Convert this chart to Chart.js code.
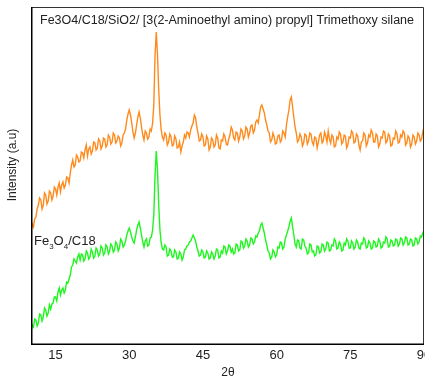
<!DOCTYPE html>
<html>
<head>
<meta charset="utf-8">
<script src="https://cdn.jsdelivr.net/npm/chart.js@4"></script>
<style>
  html, body { margin: 0; padding: 0; background: #fff; }
  #wrap { width: 425px; height: 376px; position: relative; }
</style>
</head>
<body>
<div id="wrap"><canvas id="xrd"></canvas></div>
<script>
/* ── data ──────────────────────────────────────── */
const twoTheta = [
  10, 10.25, 10.5, 10.75, 11, 11.25, 11.5, 11.75, 12, 12.25, 12.5, 12.75, 13, 13.25, 13.5, 13.75, 14, 14.25, 14.5, 14.75,
  15, 15.25, 15.5, 15.75, 16, 16.25, 16.5, 16.75, 17, 17.25, 17.5, 17.75, 18, 18.25, 18.5, 18.75, 19, 19.25, 19.5, 19.75,
  20, 20.25, 20.5, 20.75, 21, 21.25, 21.5, 21.75, 22, 22.25, 22.5, 22.75, 23, 23.25, 23.5, 23.75, 24, 24.25, 24.5, 24.75,
  25, 25.25, 25.5, 25.75, 26, 26.25, 26.5, 26.75, 27, 27.25, 27.5, 27.75, 28, 28.25, 28.5, 28.75, 29, 29.25, 29.5, 29.75,
  30, 30.25, 30.5, 30.75, 31, 31.25, 31.5, 31.75, 32, 32.25, 32.5, 32.75, 33, 33.25, 33.5, 33.75, 34, 34.25, 34.5, 34.75,
  35, 35.25, 35.5, 35.75, 36, 36.25, 36.5, 36.75, 37, 37.25, 37.5, 37.75, 38, 38.25, 38.5, 38.75, 39, 39.25, 39.5, 39.75,
  40, 40.25, 40.5, 40.75, 41, 41.25, 41.5, 41.75, 42, 42.25, 42.5, 42.75, 43, 43.25, 43.5, 43.75, 44, 44.25, 44.5, 44.75,
  45, 45.25, 45.5, 45.75, 46, 46.25, 46.5, 46.75, 47, 47.25, 47.5, 47.75, 48, 48.25, 48.5, 48.75, 49, 49.25, 49.5, 49.75,
  50, 50.25, 50.5, 50.75, 51, 51.25, 51.5, 51.75, 52, 52.25, 52.5, 52.75, 53, 53.25, 53.5, 53.75, 54, 54.25, 54.5, 54.75,
  55, 55.25, 55.5, 55.75, 56, 56.25, 56.5, 56.75, 57, 57.25, 57.5, 57.75, 58, 58.25, 58.5, 58.75, 59, 59.25, 59.5, 59.75,
  60, 60.25, 60.5, 60.75, 61, 61.25, 61.5, 61.75, 62, 62.25, 62.5, 62.75, 63, 63.25, 63.5, 63.75, 64, 64.25, 64.5, 64.75,
  65, 65.25, 65.5, 65.75, 66, 66.25, 66.5, 66.75, 67, 67.25, 67.5, 67.75, 68, 68.25, 68.5, 68.75, 69, 69.25, 69.5, 69.75,
  70, 70.25, 70.5, 70.75, 71, 71.25, 71.5, 71.75, 72, 72.25, 72.5, 72.75, 73, 73.25, 73.5, 73.75, 74, 74.25, 74.5, 74.75,
  75, 75.25, 75.5, 75.75, 76, 76.25, 76.5, 76.75, 77, 77.25, 77.5, 77.75, 78, 78.25, 78.5, 78.75, 79, 79.25, 79.5, 79.75,
  80, 80.25, 80.5, 80.75, 81, 81.25, 81.5, 81.75, 82, 82.25, 82.5, 82.75, 83, 83.25, 83.5, 83.75, 84, 84.25, 84.5, 84.75,
  85, 85.25, 85.5, 85.75, 86, 86.25, 86.5, 86.75, 87, 87.25, 87.5, 87.75, 88, 88.25, 88.5, 88.75, 89, 89.25, 89.5, 89.75,
  90
];

// Fe3O4/C18/SiO2/ [3(2-Aminoethyl amino) propyl] Trimethoxy silane
const silaneIntensity = [
  115, 121, 118, 126, 128, 136, 140, 147, 145, 136, 140, 152, 150, 141, 144, 154, 152, 145, 149, 158,
  156, 150, 158, 162, 153, 160, 163, 157, 160, 168, 167, 162, 172, 180, 185, 178, 180, 190, 188, 183,
  184, 193, 192, 187, 195, 200, 189, 196, 198, 191, 194, 203, 202, 195, 197, 206, 204, 196, 199, 207,
  206, 198, 200, 210, 208, 201, 203, 212, 210, 202, 204, 209, 207, 199, 202, 210, 212, 216, 225, 231,
  235, 230, 222, 213, 207, 212, 220, 228, 233, 227, 218, 210, 205, 214, 212, 206, 208, 216, 214, 222,
  240, 290, 313, 290, 255, 230, 215, 208, 205, 212, 210, 200, 203, 211, 208, 199, 200, 209, 206, 197,
  198, 203, 193, 199, 203, 210, 207, 213, 212, 208, 215, 219, 222, 230, 227, 218, 212, 204, 205, 211,
  208, 199, 200, 209, 206, 195, 198, 207, 205, 198, 200, 210, 207, 197, 196, 205, 204, 211, 208, 201,
  200, 206, 210, 218, 215, 207, 205, 213, 212, 204, 208, 216, 214, 206, 209, 218, 216, 208, 212, 219,
  220, 212, 215, 223, 225, 222, 230, 238, 240, 236, 232, 225, 220, 214, 212, 203, 205, 212, 208, 201,
  202, 209, 210, 203, 205, 214, 212, 208, 220, 228, 235, 245, 248, 238, 228, 218, 212, 203, 205, 211,
  208, 199, 202, 211, 210, 201, 204, 212, 211, 203, 200, 208, 207, 197, 203, 210, 212, 202, 204, 213,
  209, 203, 214, 206, 202, 210, 208, 198, 199, 208, 206, 213, 211, 201, 203, 210, 209, 197, 200, 208,
  207, 214, 212, 202, 203, 211, 209, 200, 195, 203, 204, 212, 210, 199, 202, 210, 208, 215, 212, 203,
  203, 211, 209, 198, 201, 208, 207, 214, 213, 202, 204, 211, 209, 199, 200, 207, 206, 214, 211, 202,
  203, 210, 208, 214, 212, 200, 202, 209, 207, 198, 201, 210, 208, 201, 204, 212, 210, 204, 206, 213,
  218
];

// Fe3O4/C18
const c18Intensity = [
  13, 20, 18, 26, 25, 19, 22, 31, 30, 24, 28, 37, 35, 29, 32, 40, 36, 41, 42, 48,
  48, 44, 53, 57, 50, 55, 57, 52, 55, 63, 62, 66, 70, 78, 80, 86, 84, 82, 88, 91,
  85, 91, 90, 84, 86, 94, 92, 86, 88, 96, 93, 87, 89, 97, 95, 89, 91, 99, 97, 90,
  92, 100, 98, 91, 94, 101, 99, 93, 95, 103, 101, 94, 97, 106, 104, 98, 100, 104, 110, 114,
  117, 113, 108, 104, 102, 108, 115, 120, 123, 117, 110, 103, 98, 104, 106, 99, 100, 107, 108, 115,
  130, 170, 194, 175, 140, 115, 102, 96, 95, 100, 98, 89, 90, 96, 94, 88, 88, 95, 93, 86,
  87, 93, 91, 85, 88, 95, 96, 99, 100, 103, 104, 107, 110, 107, 104, 98, 94, 89, 90, 95,
  93, 87, 88, 94, 92, 86, 87, 93, 91, 86, 89, 96, 95, 87, 88, 94, 92, 99, 98, 91,
  94, 100, 99, 93, 96, 91, 92, 101, 100, 94, 95, 104, 103, 97, 99, 106, 104, 98, 100, 107,
  106, 101, 103, 109, 108, 112, 114, 120, 122, 117, 112, 105, 100, 94, 92, 86, 88, 95, 93, 88,
  90, 98, 97, 103, 102, 96, 98, 106, 110, 114, 118, 124, 127, 118, 110, 101, 98, 105, 104, 97,
  96, 106, 105, 99, 97, 91, 92, 101, 100, 93, 94, 89, 90, 99, 98, 92, 93, 101, 100, 94,
  96, 103, 102, 94, 95, 100, 99, 106, 104, 96, 97, 103, 101, 94, 95, 102, 100, 106, 104, 97,
  97, 104, 102, 96, 98, 105, 103, 97, 96, 102, 101, 107, 105, 97, 98, 104, 102, 96, 97, 104,
  103, 98, 99, 106, 104, 97, 98, 103, 102, 108, 106, 98, 99, 105, 104, 99, 100, 106, 105, 99,
  101, 107, 106, 100, 102, 108, 107, 100, 101, 106, 105, 99, 100, 107, 106, 101, 103, 109, 108, 112,
  115
];

const xTicks = [15, 30, 45, 60, 75, 90];

const FONT = '"Liberation Sans", Arial, sans-serif';

/* ── frame + text labels ───────────────────────── */
const overlay = {
  id: 'overlay',
  afterDraw(chart) {
    const { ctx, chartArea: a } = chart;
    ctx.save();

    // box
    ctx.strokeStyle = '#333';
    ctx.lineWidth = 1;
    ctx.beginPath();
    ctx.moveTo(a.left, a.top + 0.5);
    ctx.lineTo(a.right - 0.5, a.top + 0.5);
    ctx.lineTo(a.right - 0.5, a.bottom);
    ctx.stroke();
    ctx.strokeStyle = '#000';
    ctx.lineWidth = 1.5;
    ctx.beginPath();
    ctx.moveTo(a.left + 0.75, a.top);
    ctx.lineTo(a.left + 0.75, a.bottom - 0.75);
    ctx.lineTo(a.right, a.bottom - 0.75);
    ctx.stroke();

    ctx.fillStyle = '#222';
    ctx.textBaseline = 'alphabetic';

    // title inside the plot
    ctx.font = `12.5px ${FONT}`;
    ctx.textAlign = 'left';
    ctx.fillText('Fe3O4/C18/SiO2/ [3(2-Aminoethyl amino) propyl] Trimethoxy silane', 40, 24);

    // Fe3O4/C18 with subscripts
    let x = 34;
    const parts = [['Fe', 0], ['3', 1], ['O', 0], ['4', 1], ['/C18', 0]];
    parts.forEach(([s, sub]) => {
      ctx.font = sub ? `8px ${FONT}` : `13px ${FONT}`;
      ctx.fillText(s, x, sub ? 249 : 245);
      x += ctx.measureText(s).width;
    });

    // y title
    ctx.font = `12px ${FONT}`;
    ctx.textAlign = 'center';
    ctx.save();
    ctx.translate(16, 165);
    ctx.rotate(-Math.PI / 2);
    ctx.fillText('Intensity (a.u)', 0, 0);
    ctx.restore();

    // x title
    ctx.fillText('2θ', 228, 376);

    ctx.restore();
  }
};

/* ── chart ─────────────────────────────────────── */
new Chart(document.getElementById('xrd'), {
  type: 'line',
  data: {
    datasets: [
      {
        label: 'Fe3O4/C18/SiO2/ silane',
        data: twoTheta.map((t, i) => ({ x: t, y: silaneIntensity[i] })),
        borderColor: '#ff8a1c',
        borderWidth: 1.4,
        pointRadius: 0,
        tension: 0,
      },
      {
        label: 'Fe3O4/C18',
        data: twoTheta.map((t, i) => ({ x: t, y: c18Intensity[i] })),
        borderColor: '#1ff51f',
        borderWidth: 1.4,
        pointRadius: 0,
        tension: 0,
      },
    ],
  },
  options: {
    responsive: true,
    maintainAspectRatio: false,
    animation: false,
    layout: { padding: { left: 31, right: 1, top: 7, bottom: 0 } },
    plugins: { legend: { display: false }, tooltip: { enabled: false } },
    scales: {
      x: {
        type: 'linear',
        min: 10,
        max: 90,
        afterBuildTicks(scale) { scale.ticks = xTicks.map(v => ({ value: v })); },
        afterFit(scale) { scale.height = 31; scale.paddingLeft = 0; scale.paddingRight = 0; },
        grid: { display: false, drawTicks: false },
        border: { display: false },
        ticks: { color: '#222', font: { family: FONT, size: 13 }, padding: 3, maxRotation: 0, autoSkip: false },
      },
      y: {
        display: false,
        min: 0,
        max: 338,
      },
    },
  },
  plugins: [overlay],
});
</script>
</body>
</html>
